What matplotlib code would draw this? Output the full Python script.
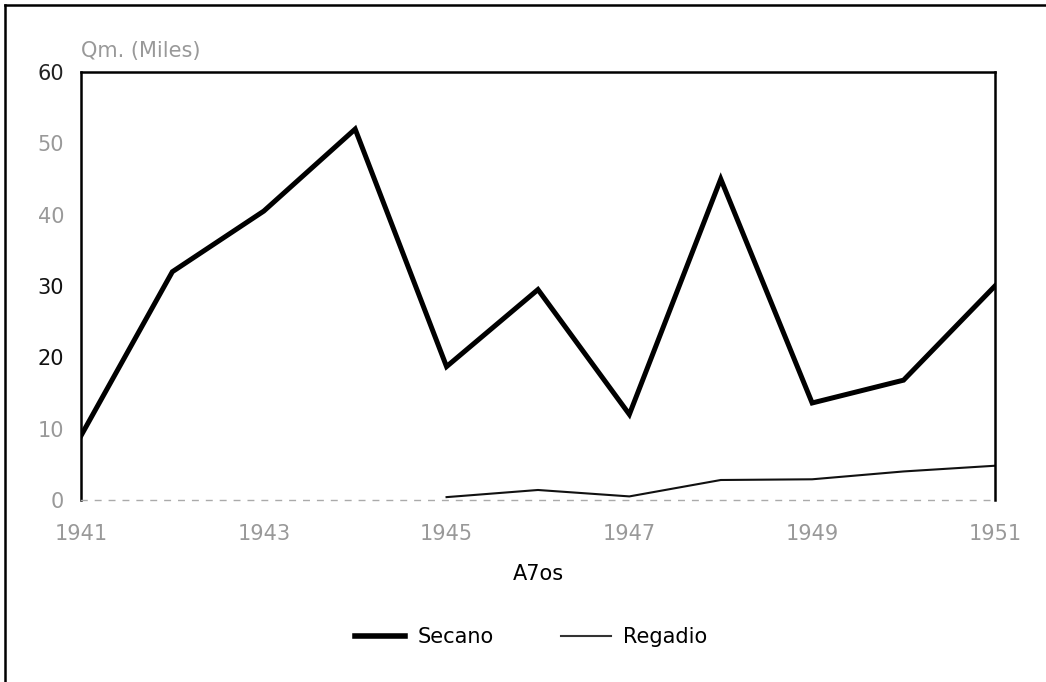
import matplotlib.pyplot as plt
from matplotlib.lines import Line2D

# data (Qm. thousands)
years = [1941, 1942, 1943, 1944, 1945, 1946, 1947, 1948, 1949, 1950, 1951]
secano = [9, 32, 40.5, 52, 18.7, 29.5, 12, 45, 13.6, 16.8, 30]
regadio = [None, None, None, None, 0.4, 1.4, 0.5, 2.8, 2.9, 4.0, 4.8]
xticks = [1941, 1943, 1945, 1947, 1949, 1951]
yticks = [0, 10, 20, 30, 40, 50, 60]
ytick_colors = ['#999999', '#999999', '#111111', '#111111', '#999999', '#999999', '#222222']

plt.rcParams['font.family'] = 'DejaVu Sans'

fig = plt.figure(figsize=(10.46, 6.82), dpi=100)
ax = fig.add_axes([0.0774, 0.2669, 0.8738, 0.6275])

ax.plot(years, secano, color='black', lw=3.6, solid_joinstyle='miter', label='Secano')
reg = [float('nan') if v is None else v for v in regadio]
ax.plot(years, reg, color='#111111', lw=1.5, label='Regadio')

ax.set_xlim(1941, 1951)
ax.set_ylim(0, 60)
ax.set_xticks(xticks)
ax.set_yticks(yticks)
ax.set_xticklabels([str(t) for t in xticks], color='#999999', fontsize=15)
ax.set_yticklabels([str(t) for t in yticks], fontsize=15)
for lab, c in zip(ax.get_yticklabels(), ytick_colors):
    lab.set_color(c)
ax.tick_params(axis='y', length=0, pad=12)
ax.tick_params(axis='x', length=0, pad=17)

for s in ['top', 'left', 'right']:
    ax.spines[s].set_linewidth(1.8)
    ax.spines[s].set_color('black')
ax.spines['bottom'].set_linestyle((0, (4, 6)))
ax.spines['bottom'].set_color('#aaaaaa')
ax.spines['bottom'].set_linewidth(1.0)

ax.set_xlabel('A7os', fontsize=15, labelpad=15)
fig.text(0.077, 0.91, 'Qm. (Miles)', color='#999999', fontsize=15, ha='left', va='bottom')

handles = [Line2D([], [], color='black', lw=4), Line2D([], [], color='#333333', lw=1.5)]
fig.legend(handles, ['Secano', 'Regadio'], loc='center', bbox_to_anchor=(0.508, 0.066),
           ncol=2, frameon=False, fontsize=15, handlelength=2.4, handletextpad=0.6,
           columnspacing=3.2)

# outer frame of the scanned page (top and left edges)
fig.add_artist(Line2D([0.005, 1.0], [0.993, 0.993], color='black', lw=1.8))
fig.add_artist(Line2D([0.005, 0.005], [0.0, 0.993], color='black', lw=1.8))

fig.savefig('out.png', dpi=100)
